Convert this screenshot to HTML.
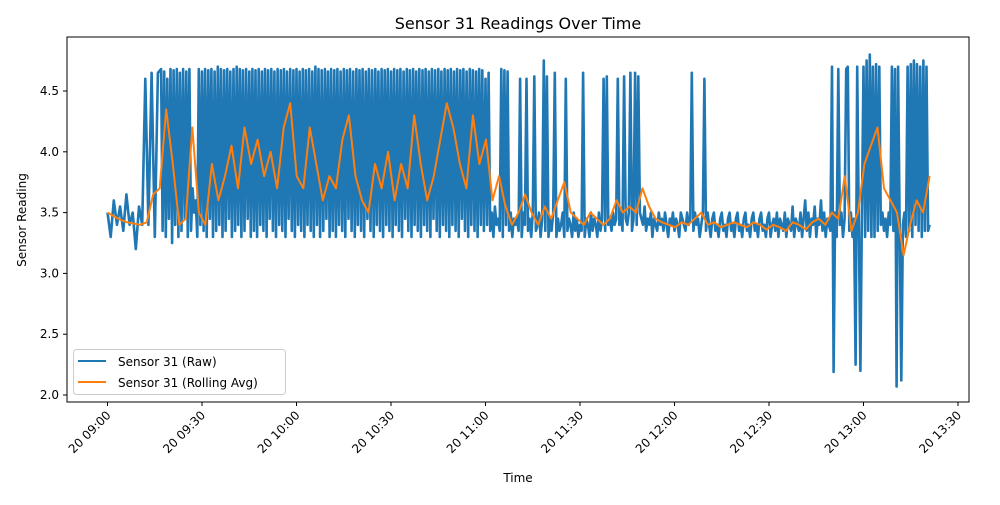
<!DOCTYPE html>
<html><head><meta charset="utf-8"><style>
body{margin:0;background:#fff;font-family:"Liberation Sans","DejaVu Sans",sans-serif}
svg text{font-family:"DejaVu Sans","Liberation Sans",sans-serif;fill:#000}
</style></head><body>
<svg id="c" width="1000" height="500"></svg>
<script>
// raw data segments: start minute (after 09:00), step minutes, values
const rawSeg1Start=0, rawSeg1Step=1;
const rawSeg1=[3.5,3.3,3.6,3.4,3.55,3.35,3.65,3.4,3.5,3.2,3.55,3.4,
4.6,3.4,4.65,3.3,4.65];
const rawSeg2Start=17, rawSeg2Step=0.5;
const rawSeg2=[
4.68,3.35,4.66,3.3,4.6,3.45,4.68,3.25,4.67,3.4,4.68,3.3,4.65,3.35,4.68,3.45,4.66,3.3,4.68,3.35,
3.7,3.5,3.6,3.3,4.68,3.4,4.66,3.35,4.68,3.3,4.67,3.45,4.68,3.3,4.66,3.35,4.7,3.4,4.68,3.3,
4.67,3.35,4.68,3.45,4.66,3.3,4.68,3.35,4.7,3.4,4.68,3.3,4.67,3.35,4.68,3.45,4.66,3.3,4.68,3.35,
4.67,3.3,4.68,3.4,4.66,3.35,4.68,3.3,4.67,3.45,4.68,3.35,4.66,3.3,4.68,3.4,4.67,3.35,4.68,3.3,
4.66,3.45,4.68,3.35,4.67,3.3,4.68,3.4,4.66,3.35,4.68,3.3,4.67,3.4,4.68,3.35,4.66,3.3,4.7,3.4,
4.68,3.3,4.67,3.35,4.68,3.45,4.66,3.3,4.68,3.35,4.67,3.3,4.68,3.4,4.66,3.35,4.68,3.3,4.67,3.45,
4.68,3.35,4.66,3.3,4.68,3.4,4.67,3.35,4.68,3.3,4.66,3.45,4.68,3.35,4.67,3.3,4.68,3.4,4.66,3.35,
4.68,3.3,4.67,3.4,4.68,3.35,4.66,3.3,4.68,3.4,4.67,3.35,4.68,3.3,4.66,3.45,4.68,3.35,4.67,3.3,
4.68,3.4,4.66,3.35,4.68,3.3,4.67,3.4,4.68,3.35,4.66,3.3,4.68,3.45,4.67,3.35,4.68,3.3,4.66,3.4,
4.68,3.35,4.67,3.3,4.68,3.4,4.66,3.35,4.68,3.3,4.67,3.45,4.68,3.35,4.66,3.3,4.68,3.4,4.67,3.35,
4.66,3.3,4.68,3.4,4.67,3.35];
const rawSeg3Start=120, rawSeg3Step=0.5;
const rawSeg3=[
4.6,3.4,4.65,3.35,3.5,3.3,3.55,3.4,3.45,3.35,4.68,3.3,4.67,3.4,4.66,3.35,3.5,3.3,3.45,3.4,
3.45,3.35,4.6,3.3,3.5,3.4,4.6,3.35,3.45,3.3,3.5,4.62,3.35,3.4,3.5,3.3,3.45,4.75,3.35,4.62,
3.3,3.45,3.35,3.5,4.65,3.3,3.45,3.35,3.4,3.5,3.3,4.6,3.35,3.45,3.4,3.3,3.5,3.35,3.45,3.3,
3.4,3.35,4.65,3.3,3.45,3.4,3.3,3.5,3.35,3.45,3.4,3.3,3.5,3.35,3.45,4.6,3.35,4.62,3.4,3.45,
3.35,3.5,3.4,3.45,4.6,3.4,3.5,3.35,4.62,3.45,3.4,3.5,4.65,3.35,3.45,4.65,3.4,4.62,3.5,3.45,
3.4,3.55,3.35,3.45,3.4,3.5,3.3,3.45,3.4,3.35,3.5,3.4,3.45,3.35,3.5,3.4,3.3,3.45,3.4,3.5,
3.35,3.45,3.4,3.3,3.5,3.45,3.4,3.35,3.5,3.4,3.45,4.65,3.35,3.5,3.4,3.45,3.3,3.4,3.5,4.6,
3.35,3.5,3.4,3.3,3.45,3.5,3.35,3.4,3.3,3.45,3.5,3.35,3.4,3.3,3.45,3.5,3.35,3.4,3.3,3.45,
3.5,3.35,3.4,3.3,3.45,3.5,3.35,3.4,3.3,3.45,3.5,3.35,3.4,3.3,3.45,3.5,3.35,3.4,3.3,3.45,
3.5,3.3,3.4,3.45,3.35,3.5,3.3,3.45,3.4,3.35,3.5,3.3,3.45,3.4,3.35,3.55,3.3,3.45,3.4,3.35,
3.5,3.3,3.45,3.6,3.35,3.5,3.3,3.45,3.4,3.55,3.3,3.45,3.4,3.6,3.35,3.5,3.3,3.45,3.4,3.35,
4.7,2.19,3.5,3.3,4.68,3.4,3.5,3.3,3.45,4.68,4.7,3.35,3.5,3.3,3.45,2.25,4.7,3.4,2.2,3.5,
4.7,3.3,4.75,3.35,4.8,3.3,4.7,3.3,4.72,3.35,4.7,3.4,3.5,3.35,3.45,3.3,3.5,3.4,4.7,3.35,
4.68,2.07,4.7,3.35,2.12,3.4,3.5,3.3,4.7,3.35,4.72,3.3,4.75,3.4,4.72,3.35,4.7,3.3,4.75,3.35,
4.7,3.35,3.4];
const avgStartMin=0, avgEndMin=261;
const avgValues=[3.5,3.47,3.44,3.42,3.41,3.4,3.42,3.65,3.7,4.35,3.9,3.4,3.45,4.2,3.5,3.4,3.9,3.6,3.8,4.05,3.7,4.2,3.9,4.1,3.8,4.0,3.7,4.2,4.4,3.8,
3.7,4.2,3.9,3.6,3.8,3.7,4.1,4.3,3.8,3.6,3.5,3.9,3.7,4.0,3.6,3.9,3.7,4.3,3.9,3.6,3.8,4.1,4.4,4.2,3.9,3.7,4.3,3.9,4.1,3.6,
3.8,3.55,3.4,3.5,3.65,3.5,3.4,3.55,3.45,3.6,3.75,3.5,3.45,3.4,3.5,3.45,3.4,3.45,3.6,3.5,3.55,3.5,3.7,3.55,3.45,3.42,
3.4,3.38,3.42,3.4,3.45,3.5,3.4,3.42,3.38,3.4,3.42,3.4,3.38,3.42,3.4,3.36,3.4,3.38,3.35,3.42,3.4,3.36,3.42,3.45,3.4,3.5,3.45,3.8,3.35,3.5,3.9,4.05,4.2,3.7,3.6,3.5,3.15,3.4,3.6,3.5,3.8];
const yTicks=[2.0,2.5,3.0,3.5,4.0,4.5];
const xTickMins=[0,30,60,90,120,150,180,210,240,270];
const xTickLabels=["20 09:00","20 09:30","20 10:00","20 10:30","20 11:00","20 11:30","20 12:00","20 12:30","20 13:00","20 13:30"];

const L=67,R=969,T=37,B=402;
const x=m=>107.5+m*3.15;
const y=v=>395-(v-2)*121.6;
const svg=document.getElementById('c');
const NS='http://www.w3.org/2000/svg';
function mk(t,a,p){const e=document.createElementNS(NS,t);for(const k in a)e.setAttribute(k,a[k]);(p||svg).appendChild(e);return e;}

const title=mk('text',{x:518,y:29,'text-anchor':'middle','font-size':16});title.textContent='Sensor 31 Readings Over Time';



const pts=[];
rawSeg1.forEach((v,i)=>pts.push([rawSeg1Start+i*rawSeg1Step,v]));
rawSeg2.forEach((v,i)=>pts.push([rawSeg2Start+i*rawSeg2Step,v]));
rawSeg3.forEach((v,i)=>pts.push([rawSeg3Start+i*rawSeg3Step,v]));
const rp=pts.map(p=>x(p[0]).toFixed(1)+','+y(p[1]).toFixed(1)).join(' ');
const raw=mk('polyline',{points:rp,fill:'none',stroke:'#1f77b4','stroke-width':2.6,'stroke-linejoin':'round'});


const astep=(avgEndMin-avgStartMin)/(avgValues.length-1);
const ap=avgValues.map((v,i)=>x(avgStartMin+i*astep).toFixed(1)+','+y(v).toFixed(1)).join(' ');
const avg=mk('polyline',{points:ap,fill:'none',stroke:'#ff7f0e','stroke-width':2,'stroke-linejoin':'round'});



const frame=mk('rect',{x:L,y:T,width:R-L,height:B-T,fill:'none',stroke:'#000','stroke-width':1});



yTicks.forEach(v=>{
  mk('line',{x1:L-4,x2:L,y1:y(v),y2:y(v),stroke:'#000'});
  const t=mk('text',{x:L-8,y:y(v)+4,'text-anchor':'end','font-size':12});t.textContent=v.toFixed(1);
  
  
});
xTickMins.forEach((m,i)=>{
  mk('line',{x1:x(m),x2:x(m),y1:B,y2:B+4,stroke:'#000'});
  const t=mk('text',{x:x(m)+4,y:B+14,'text-anchor':'end','font-size':12,transform:`rotate(-45 ${x(m)+4} ${B+14})`});t.textContent=xTickLabels[i];
  
  
});
const xt=mk('text',{x:518,y:482,'text-anchor':'middle','font-size':12});xt.textContent='Time';


const yt=mk('text',{x:26,y:220,'text-anchor':'middle','font-size':12,transform:'rotate(-90 26 220)'});yt.textContent='Sensor Reading';



const lg=mk('g',{});


mk('rect',{x:73.5,y:349.5,width:212,height:45,rx:3,fill:'#fff','fill-opacity':0.8,stroke:'#ccc'},lg);
mk('line',{x1:78,x2:106,y1:361,y2:361,stroke:'#1f77b4','stroke-width':2},lg);
mk('line',{x1:78,x2:106,y1:382,y2:382,stroke:'#ff7f0e','stroke-width':2},lg);
const l1=mk('text',{x:118,y:366,'font-size':12},lg);l1.textContent='Sensor 31 (Raw)';


const l2=mk('text',{x:118,y:387,'font-size':12},lg);l2.textContent='Sensor 31 (Rolling Avg)';


</script>
</body></html>
